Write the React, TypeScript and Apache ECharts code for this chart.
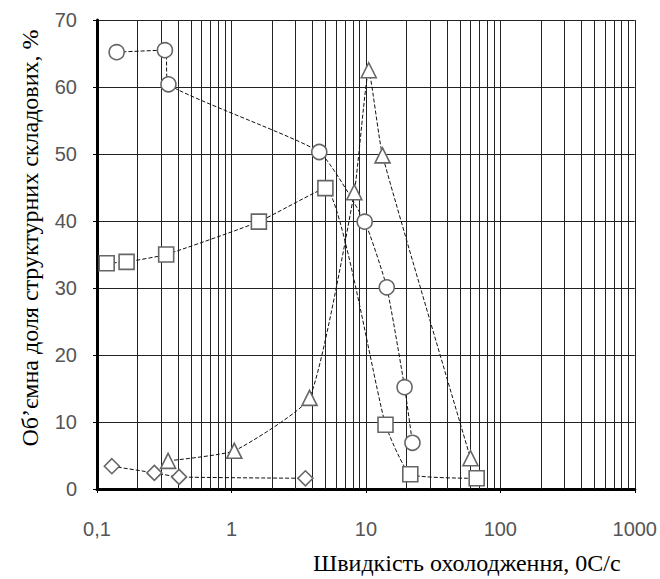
import React, { useEffect, useRef } from "react";
import * as echarts from "echarts";

// Cooling rate (°C/s) and volume fractions (%)
const circleX = [0.14, 0.32, 0.34, 4.5, 9.8, 14.3, 19.4, 22.2];
const circleY = [65.2, 65.5, 60.4, 50.3, 39.9, 30.1, 15.2, 6.9];

const squareX = [0.118, 0.166, 0.327, 1.6, 5.0, 14.0, 21.4, 66.7];
const squareY = [33.7, 33.9, 35.0, 39.9, 44.9, 9.6, 2.2, 1.6];

const triangleX = [0.338, 1.05, 3.81, 8.2, 10.5, 13.3, 60];
const triangleY = [4.2, 5.7, 13.6, 44.3, 62.5, 49.8, 4.6];

const diamondX = [0.129, 0.267, 0.408, 3.55];
const diamondY = [3.4, 2.4, 1.8, 1.6];

const decades = [0.1, 1, 10, 100];
const minorSteps = [2, 3, 4, 5, 6, 7, 8, 9];

const yTitle = "Об’ємна доля структурних складових, %";
const xTitle = "Швидкість охолодження, 0С/с";

const pair = (xs: number[], ys: number[]) => xs.map((x, i) => [x, ys[i]]);

export default function App() {
  const ref = useRef<HTMLDivElement>(null);

  useEffect(() => {
    document.body.style.margin = "0";
    if (!ref.current) return;
    const chart = echarts.init(ref.current, null, { renderer: "svg" });

    const minorGrid: number[] = [];
    decades.forEach((d) => minorSteps.forEach((s) => minorGrid.push(+(d * s).toPrecision(3))));

    const lineStyle = { color: "#111", width: 1, type: [4, 2] as any };
    const itemStyle = { color: "#fff", borderColor: "#666", borderWidth: 1.6 };

    const mk = (name: string, symbol: string, size: number, xs: number[], ys: number[]) => ({
      name,
      type: "line",
      data: pair(xs, ys),
      symbol,
      symbolSize: size,
      showAllSymbol: true,
      smooth: 0.15,
      lineStyle,
      itemStyle,
      z: 5,
    });

    chart.setOption({
      animation: false,
      backgroundColor: "#fff",
      grid: { left: 97, right: 19, top: 20, bottom: 90 },
      xAxis: {
        type: "log",
        logBase: 10,
        min: 0.1,
        max: 1000,
        axisLine: { show: true, onZero: false, lineStyle: { color: "#000", width: 3 } },
        axisTick: { show: true, length: 4, lineStyle: { color: "#000" } },
        splitLine: { show: true, lineStyle: { color: "#222", width: 1 } },
        axisLabel: {
          margin: 30,
          fontSize: 20,
          color: "#555",
          fontFamily: "Liberation Sans",
          formatter: (v: number) =>
            (v < 1 ? v.toFixed(1) : String(Math.round(v))).replace(".", ","),
        },
      },
      yAxis: {
        type: "value",
        min: 0,
        max: 70,
        interval: 10,
        axisLine: { show: true, lineStyle: { color: "#000", width: 3 } },
        axisTick: { show: true, length: 4, lineStyle: { color: "#000" } },
        splitLine: { show: true, lineStyle: { color: "#222", width: 1 } },
        axisLabel: {
          margin: 20,
          fontSize: 20,
          color: "#555",
          fontFamily: "Liberation Sans",
        },
      },
      graphic: [
        {
          type: "text",
          x: 30,
          y: 238,
          rotation: Math.PI / 2,
          style: {
            text: yTitle,
            fontSize: 24,
            fontFamily: "Liberation Serif",
            fill: "#000",
            textAlign: "center",
            textVerticalAlign: "middle",
          },
        },
        {
          type: "text",
          x: 313,
          y: 563,
          style: {
            text: xTitle,
            fontSize: 24,
            fontFamily: "Liberation Serif",
            fill: "#000",
            textAlign: "left",
            textVerticalAlign: "middle",
          },
        },
      ],
      series: [
        {
          name: "grid",
          type: "line",
          data: [],
          z: 1,
          markLine: {
            silent: true,
            symbol: "none",
            label: { show: false },
            lineStyle: { color: "#222", width: 1, type: "solid" },
            data: minorGrid.map((x) => ({ xAxis: x })),
          },
        },
        mk("diamond", "diamond", 15, diamondX, diamondY),
        mk("square", "rect", 15, squareX, squareY),
        mk("triangle", "triangle", 15, triangleX, triangleY),
        mk("circle", "circle", 15, circleX, circleY),
      ],
    });

    return () => chart.dispose();
  }, []);

  return <div ref={ref} style={{ width: 660, height: 579 }} />;
}
